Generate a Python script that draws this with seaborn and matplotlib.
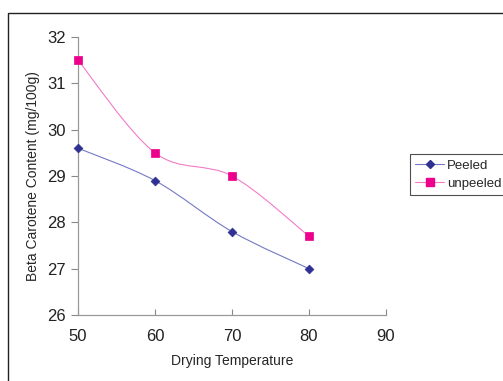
import numpy as np
import pandas as pd
import seaborn as sns
import matplotlib.pyplot as plt
from matplotlib.path import Path
from matplotlib.patches import PathPatch, Rectangle
from matplotlib.lines import Line2D

temperature = [50, 60, 70, 80]
peeled = [29.6, 28.9, 27.8, 27.0]
unpeeled = [31.5, 29.5, 29.0, 27.7]
series_names = ["Peeled", "unpeeled"]

df = pd.DataFrame({
    "Drying Temperature": temperature * 2,
    "value": peeled + unpeeled,
    "series": [series_names[0]] * 4 + [series_names[1]] * 4,
})

sns.set_style("white")
plt.rcParams["font.family"] = ["Liberation Sans", "DejaVu Sans"]

marker_colors = {"Peeled": "#2E3192", "unpeeled": "#EC008C"}
line_colors = {"Peeled": "#7478C4", "unpeeled": "#F47AC8"}
markers = {"Peeled": "D", "unpeeled": "s"}
msizes = {"Peeled": 20, "unpeeled": 34}

fig = plt.figure(figsize=(5.03, 3.81), dpi=100)
ax = fig.add_axes([78 / 503, 1 - 315 / 381, (386 - 78) / 503, (315 - 37) / 381])


def smooth_path(xs, ys):
    # Excel style smoothed line: cubic bezier, catmull-rom control points
    pts = np.column_stack([xs, ys]).astype(float)
    verts = [pts[0]]
    codes = [Path.MOVETO]
    n = len(pts)
    for i in range(n - 1):
        p0 = pts[max(i - 1, 0)]
        p1 = pts[i]
        p2 = pts[i + 1]
        p3 = pts[min(i + 2, n - 1)]
        c1 = p1 + (p2 - p0) / 6.0
        c2 = p2 - (p3 - p1) / 6.0
        verts += [c1, c2, p2]
        codes += [Path.CURVE4] * 3
    return Path(verts, codes)


for name in series_names:
    sub = df[df["series"] == name]
    ax.add_patch(PathPatch(smooth_path(sub["Drying Temperature"], sub["value"]),
                           facecolor="none", edgecolor=line_colors[name], lw=0.8))
    sns.scatterplot(data=sub, x="Drying Temperature", y="value", ax=ax,
                    marker=markers[name], color=marker_colors[name],
                    s=msizes[name], edgecolor=marker_colors[name], linewidth=0.5,
                    zorder=3, legend=False, clip_on=False)

ax.set_xlim(50, 90)
ax.set_ylim(26, 32)
ax.set_xticks([50, 60, 70, 80, 90])
ax.set_yticks([26, 27, 28, 29, 30, 31, 32])
ax.set_xlabel("Drying Temperature", fontsize=10, labelpad=7)
ax.set_ylabel("Beta Carotene Content (mg/100g)", fontsize=10, labelpad=5)
ax.tick_params(axis="both", labelsize=12, colors="#888888", labelcolor="#222222")
ax.tick_params(axis="y", direction="out", length=5, width=0.8, left=True)
ax.tick_params(axis="x", direction="in", length=4, width=0.8, bottom=True, pad=10)
for side in ["top", "right"]:
    ax.spines[side].set_visible(False)
for side in ["left", "bottom"]:
    ax.spines[side].set_color("#999999")
    ax.spines[side].set_linewidth(0.9)

handles = [Line2D([0], [0], color=line_colors[n], lw=0.8, marker=markers[n],
                  markersize=4.5 if n == "Peeled" else 5.5,
                  markerfacecolor=marker_colors[n], markeredgecolor=marker_colors[n])
           for n in series_names]
leg = fig.legend(handles, series_names, loc="upper left",
                 bbox_to_anchor=(410 / 503, 1 - 154 / 381), fontsize=9.5,
                 frameon=True, fancybox=False, edgecolor="#222222",
                 handlelength=2.2, handletextpad=0.2, borderpad=0.4,
                 labelspacing=0.45, borderaxespad=0)
leg.get_frame().set_linewidth(0.8)

fig.patches.append(Rectangle((8 / 503, -0.1), 1.2, 1 - 13 / 381 + 0.1,
                             transform=fig.transFigure, fill=False,
                             edgecolor="#222222", lw=1.0))

fig.savefig("out.png", dpi=100)
